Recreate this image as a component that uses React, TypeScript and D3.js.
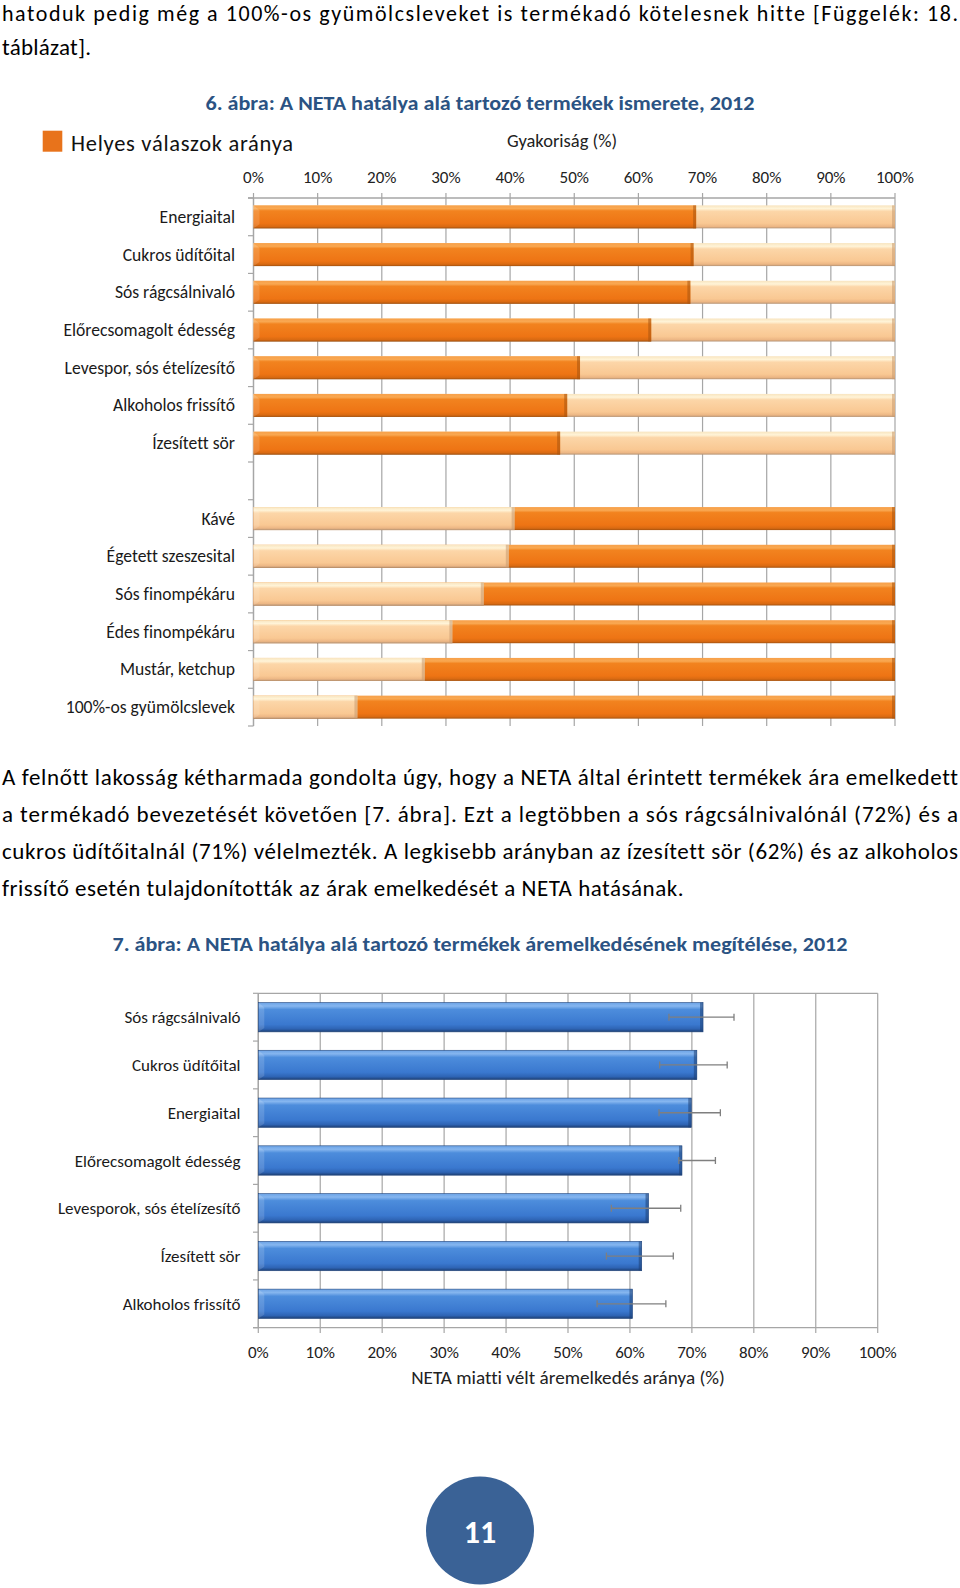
import React from "react";
import * as d3 from "d3";

const introLines = [
  "hatoduk pedig még a 100%-os gyümölcsleveket is termékadó kötelesnek hitte [Függelék: 18.",
  "táblázat].",
];
const bodyLines = [
  "A felnőtt lakosság kétharmada gondolta úgy, hogy a NETA által érintett termékek ára emelkedett",
  "a termékadó bevezetését követően [7. ábra]. Ezt a legtöbben a sós rágcsálnivalónál (72%) és a",
  "cukros üdítőitalnál (71%) vélelmezték. A legkisebb arányban az ízesített sör (62%) és az alkoholos",
  "frissítő esetén tulajdonították az árak emelkedését a NETA hatásának.",
];
const title1 = "6. ábra: A NETA hatálya alá tartozó termékek ismerete, 2012";
const title2 = "7. ábra: A NETA hatálya alá tartozó termékek áremelkedésének megítélése, 2012";
const legendLabel = "Helyes válaszok aránya";
const axis1Title = "Gyakoriság (%)";
const axis2Title = "NETA miatti vélt áremelkedés aránya (%)";
const pageNumber = "11";

// Chart 1: share answering "subject to the tax"; orange = correct answer
const knowledgeCategories = [
  "Energiaital",
  "Cukros üdítőital",
  "Sós rágcsálnivaló",
  "Előrecsomagolt édesség",
  "Levespor, sós ételízesítő",
  "Alkoholos frissítő",
  "Ízesített sör",
  "",
  "Kávé",
  "Égetett szeszesital",
  "Sós finompékáru",
  "Édes finompékáru",
  "Mustár, ketchup",
  "100%-os gyümölcslevek",
];
const saidTaxed = [0.69, 0.686, 0.681, 0.62, 0.509, 0.489, 0.478, null, 0.407, 0.398, 0.359, 0.31, 0.267, 0.162];
const actuallyTaxed = [true, true, true, true, true, true, true, null, false, false, false, false, false, false];

const percentTicks = [0, 0.1, 0.2, 0.3, 0.4, 0.5, 0.6, 0.7, 0.8, 0.9, 1];

// Chart 2
const priceCategories = [
  "Sós rágcsálnivaló",
  "Cukros üdítőital",
  "Energiaital",
  "Előrecsomagolt édesség",
  "Levesporok, sós ételízesítő",
  "Ízesített sör",
  "Alkoholos frissítő",
];
const priceValues = [0.718, 0.708, 0.699, 0.684, 0.63, 0.619, 0.604];
const priceLow = [0.663, 0.648, 0.647, 0.679, 0.57, 0.562, 0.547];
const priceHigh = [0.768, 0.757, 0.746, 0.738, 0.682, 0.67, 0.658];

const FONT = "Carlito, Lato, sans-serif";
const GRID = "#a6a6a6";
const TITLE_BLUE = "#2b5383";
const fmt = d3.format(".0%");

export default function App() {
  const W = 960;
  const H = 1588;

  const x1 = d3.scaleLinear().domain([0, 1]).range([253.5, 895]);
  const y1 = d3
    .scaleBand<string>()
    .domain(knowledgeCategories)
    .range([198, 726])
    .paddingInner(0.39)
    .paddingOuter(0.195);
  const step1 = y1.step();

  const x2 = d3.scaleLinear().domain([0, 1]).range([258.3, 877.7]);
  const y2 = d3
    .scaleBand<string>()
    .domain(priceCategories)
    .range([993.3, 1327.7])
    .paddingInner(0.385)
    .paddingOuter(0.1925);
  const step2 = y2.step();

  const seg = (x0: number, xEnd: number, y: number, h: number, fill: string, edge: string, key: string) => (
    <g key={key}>
      <rect x={x0} y={y} width={Math.max(0, xEnd - x0)} height={h} fill={`url(#${fill})`} />
      <rect x={xEnd - 3} y={y} width={3} height={h} fill={edge} opacity={0.55} />
      <path d={`M${x0},${y} L${x0 + 6},${y + 5} L${x0 + 6},${y + h - 4} L${x0},${y + h} Z`} fill="#ffffff" opacity={0.15} />
    </g>
  );

  return (
    <svg
      width={W}
      height={H}
      viewBox={`0 0 ${W} ${H}`}
      style={{ position: "absolute", left: 0, top: 0, background: "#fff", fontVariantLigatures: "none" }}
      fontFamily={FONT}
    >
      <defs>
        <linearGradient id="gOrange" x1="0" y1="0" x2="0" y2="1">
          <stop offset="0" stopColor="#f7a04a" />
          <stop offset="0.14" stopColor="#f9a851" />
          <stop offset="0.24" stopColor="#f2831f" />
          <stop offset="0.78" stopColor="#ee7414" />
          <stop offset="0.92" stopColor="#d96a12" />
          <stop offset="1" stopColor="#a4520f" />
        </linearGradient>
        <linearGradient id="gLight" x1="0" y1="0" x2="0" y2="1">
          <stop offset="0" stopColor="#f8e4bf" />
          <stop offset="0.14" stopColor="#fff4d8" />
          <stop offset="0.26" stopColor="#fcd6a8" />
          <stop offset="0.78" stopColor="#f9c893" />
          <stop offset="0.92" stopColor="#ecb684" />
          <stop offset="1" stopColor="#b49375" />
        </linearGradient>
        <linearGradient id="gBlue" x1="0" y1="0" x2="0" y2="1">
          <stop offset="0" stopColor="#6aa2e6" />
          <stop offset="0.12" stopColor="#86b6ef" />
          <stop offset="0.24" stopColor="#4d8ddc" />
          <stop offset="0.75" stopColor="#3a78cf" />
          <stop offset="0.9" stopColor="#2e64b4" />
          <stop offset="1" stopColor="#1d3f74" />
        </linearGradient>
      </defs>

      {/* intro paragraph */}
      <text x={2} y={21} fontSize={22} fill="#000" textLength={956} lengthAdjust="spacing">
        {introLines[0]}
      </text>
      <text x={2} y={55} fontSize={23} fill="#000" textLength={89} lengthAdjust="spacing">
        {introLines[1]}
      </text>

      {/* Chart 1 */}
      <text x={480} y={110} textAnchor="middle" fontSize={20.5} fontWeight={700} fill={TITLE_BLUE} textLength={549} lengthAdjust="spacingAndGlyphs">
        {title1}
      </text>
      <rect x={42.7} y={130.7} width={19.6} height={21} fill="#e8731b" />
      <text x={71} y={151} fontSize={22.5} fill="#111" textLength={222} lengthAdjust="spacing">
        {legendLabel}
      </text>
      <text x={562} y={147} textAnchor="middle" fontSize={18.5} fill="#222">
        {axis1Title}
      </text>

      {percentTicks.map((t) => (
        <line key={`g1-${t}`} x1={x1(t)} x2={x1(t)} y1={193} y2={726} stroke={GRID} strokeWidth={1.2} />
      ))}
      {percentTicks.map((t) => (
        <text key={`t1-${t}`} x={x1(t)} y={183} textAnchor="middle" fontSize={17} fill="#222">
          {fmt(t)}
        </text>
      ))}
      <line x1={248} x2={895} y1={198} y2={198} stroke={GRID} strokeWidth={1.3} />
      <line x1={253.5} x2={253.5} y1={198} y2={726} stroke={GRID} strokeWidth={1.3} />
      {d3.range(knowledgeCategories.length + 1).map((i) => (
        <line key={`ct1-${i}`} x1={248} x2={253.5} y1={198 + i * step1} y2={198 + i * step1} stroke={GRID} strokeWidth={1.2} />
      ))}

      {knowledgeCategories.map((c, i) => {
        const v = saidTaxed[i];
        if (v == null) return null;
        const y = y1(c)!;
        const h = y1.bandwidth();
        const leftFill = actuallyTaxed[i] ? "gOrange" : "gLight";
        const rightFill = actuallyTaxed[i] ? "gLight" : "gOrange";
        const leftEdge = actuallyTaxed[i] ? "#a8530f" : "#c89a70";
        const rightEdge = actuallyTaxed[i] ? "#c89a70" : "#a8530f";
        return (
          <g key={`b1-${i}`}>
            {seg(x1(0), x1(1), y, h, rightFill, rightEdge, "r")}
            {seg(x1(0), x1(v), y, h, leftFill, leftEdge, "l")}
            <text x={235} y={y + h / 2 + 6} textAnchor="end" fontSize={17.6} fill="#1a1a1a">
              {c}
            </text>
          </g>
        );
      })}

      {/* body paragraph */}
      {bodyLines.map((l, i) => (
        <text
          key={`p-${i}`}
          x={2}
          y={784.5 + i * 37}
          fontSize={23}
          fill="#000"
          textLength={i < 3 ? 956 : 681.5}
          lengthAdjust="spacing"
        >
          {l}
        </text>
      ))}

      {/* Chart 2 */}
      <text x={480} y={951} textAnchor="middle" fontSize={20.5} fontWeight={700} fill={TITLE_BLUE} textLength={735} lengthAdjust="spacingAndGlyphs">
        {title2}
      </text>
      {percentTicks.map((t) => (
        <line key={`g2-${t}`} x1={x2(t)} x2={x2(t)} y1={993.3} y2={1333} stroke={GRID} strokeWidth={1.2} />
      ))}
      <line x1={258.3} x2={877.7} y1={993.3} y2={993.3} stroke={GRID} strokeWidth={1.2} />
      <line x1={253} x2={877.7} y1={1327.7} y2={1327.7} stroke={GRID} strokeWidth={1.3} />
      <line x1={258.3} x2={258.3} y1={993.3} y2={1327.7} stroke={GRID} strokeWidth={1.3} />
      {d3.range(priceCategories.length + 1).map((i) => (
        <line key={`ct2-${i}`} x1={253} x2={258.3} y1={993.3 + i * step2} y2={993.3 + i * step2} stroke={GRID} strokeWidth={1.2} />
      ))}
      {percentTicks.map((t) => (
        <text key={`t2-${t}`} x={x2(t)} y={1357.5} textAnchor="middle" fontSize={17} fill="#222">
          {fmt(t)}
        </text>
      ))}
      <text x={568} y={1384} textAnchor="middle" fontSize={19.2} fill="#222">
        {axis2Title}
      </text>

      {priceCategories.map((c, i) => {
        const y = y2(c)!;
        const h = y2.bandwidth();
        const cy = y + h / 2;
        return (
          <g key={`b2-${i}`}>
            {seg(x2(0), x2(priceValues[i]), y, h, "gBlue", "#1d3f74", "b")}
            <rect x={x2(0)} y={y} width={x2(priceValues[i]) - x2(0)} height={h} fill="none" stroke="#24477c" strokeWidth={0.6} />
            <line x1={x2(priceLow[i])} x2={x2(priceHigh[i])} y1={cy} y2={cy} stroke="#7f7f7f" strokeWidth={1.3} />
            <line x1={x2(priceLow[i])} x2={x2(priceLow[i])} y1={cy - 3.5} y2={cy + 3.5} stroke="#7f7f7f" strokeWidth={1.3} />
            <line x1={x2(priceHigh[i])} x2={x2(priceHigh[i])} y1={cy - 3.5} y2={cy + 3.5} stroke="#7f7f7f" strokeWidth={1.3} />
            <text x={240.5} y={cy + 6} textAnchor="end" fontSize={17} fill="#1a1a1a">
              {c}
            </text>
          </g>
        );
      })}

      <circle cx={480} cy={1530.5} r={54} fill="#3a6296" />
      <text x={480} y={1542.5} textAnchor="middle" fontSize={32} fontWeight={700} fill="#fff">
        {pageNumber}
      </text>
    </svg>
  );
}
